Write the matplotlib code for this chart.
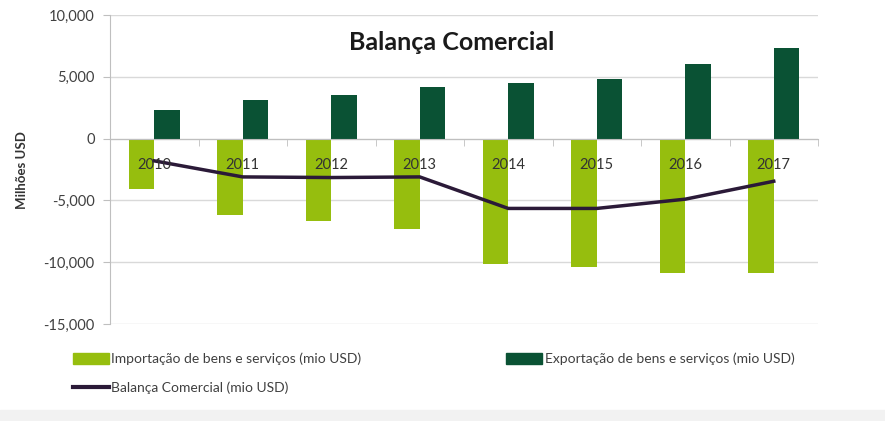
import matplotlib.pyplot as plt
import matplotlib.patches as mpatches
from matplotlib.lines import Line2D
from matplotlib.ticker import FuncFormatter
import numpy as np

plt.rcParams['font.family'] = ['Lato', 'DejaVu Sans']

years = ['2010', '2011', '2012', '2013', '2014', '2015', '2016', '2017']
importacao = [-4100, -6200, -6700, -7300, -10150, -10400, -10900, -10900]
exportacao = [2300, 3100, 3500, 4200, 4500, 4800, 6000, 7300]
balanca = [-1800, -3100, -3150, -3100, -5650, -5650, -4900, -3450]

c_imp = '#96BE0E'
c_exp = '#0A5234'
c_bal = '#2B1A38'

fig = plt.figure(figsize=(8.85, 4.21), dpi=100)
ax = fig.add_axes([110 / 885, 1 - 324 / 421, 708 / 885, 309 / 421])

x = np.arange(len(years))
w = 0.29
ax.bar(x - w / 2, importacao, w, color=c_imp, zorder=2)
ax.bar(x + w / 2, exportacao, w, color=c_exp, zorder=2)
ax.plot(x, balanca, color=c_bal, lw=2.5, zorder=3)

ax.set_xlim(-0.5, len(years) - 0.5)
ax.set_ylim(-15000, 10000)
ax.set_yticks(np.arange(-15000, 10001, 5000))
ax.yaxis.set_major_formatter(FuncFormatter(lambda v, p: f'{int(v):,}'))
ax.grid(axis='y', color='#D9D9D9', lw=1, zorder=0)

for s in ['top', 'right']:
    ax.spines[s].set_visible(False)
ax.spines['left'].set_color('#BFBFBF')
ax.spines['bottom'].set_position(('data', 0))
ax.spines['bottom'].set_color('#BFBFBF')

# category labels sit just under the zero line, drawn over the bars
ax.set_xticks(x)
ax.set_xticklabels([])
ax.set_xticks(np.arange(len(years)) + 0.5, minor=True)
ax.tick_params(axis='x', which='major', length=0)
ax.tick_params(axis='x', which='minor', length=5, color='#BFBFBF')
ax.tick_params(axis='y', length=5, color='#BFBFBF', pad=6, labelsize=10.5,
               labelcolor='#404040')
for i, yr in enumerate(years):
    ax.annotate(yr, (i, 0), xytext=(0, -19), textcoords='offset points',
                ha='center', va='center', fontsize=10.5, color='#333333', zorder=5)

ax.text(0.483, 0.91, 'Balança Comercial', transform=ax.transAxes, ha='center',
        va='center', fontsize=18, fontweight='bold', color='#1A1A1A')
fig.text(22 / 885, 1 - 170 / 421, 'Milhões USD', rotation=90, ha='center',
         va='center', fontsize=9.5, fontweight='bold', color='#333333')

h_imp = mpatches.Patch(color=c_imp, label='Importação de bens e serviços (mio USD)')
h_exp = mpatches.Patch(color=c_exp, label='Exportação de bens e serviços (mio USD)')
h_bal = Line2D([], [], color=c_bal, lw=3, label='Balança Comercial (mio USD)')
fig.legend(handles=[h_imp, h_bal, h_exp], ncol=2, loc='upper left',
           bbox_to_anchor=(60 / 885, 1 - 340 / 421), frameon=False,
           fontsize=10, handlelength=2.6, handleheight=0.8, handletextpad=0.2,
           columnspacing=10.4, labelspacing=1.2, labelcolor='#404040')

fig.patches.append(mpatches.Rectangle((0, 0), 1, 11 / 421, transform=fig.transFigure,
                                      color='#F2F2F2', zorder=0))

fig.savefig('out.png', dpi=100)
